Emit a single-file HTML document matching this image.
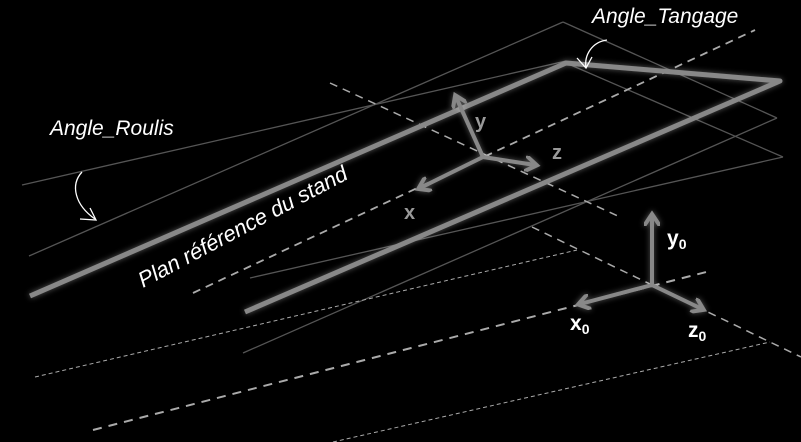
<!DOCTYPE html>
<html><head><meta charset="utf-8"><style>
html,body{margin:0;padding:0;background:#000;}
svg{display:block;}
text{font-family:"Liberation Sans","DejaVu Sans",sans-serif;}
</style></head><body>
<svg width="801" height="442" viewBox="0 0 801 442">
<defs>
<filter id="glow" x="-20%" y="-20%" width="140%" height="140%">
<feGaussianBlur in="SourceAlpha" stdDeviation="3" result="b"/>
<feFlood flood-color="#fff" flood-opacity="0.35"/>
<feComposite in2="b" operator="in" result="g"/>
<feMerge><feMergeNode in="g"/><feMergeNode in="SourceGraphic"/></feMerge>
</filter>
<marker id="ah" markerWidth="4" markerHeight="4" refX="2.5" refY="2" orient="auto" markerUnits="strokeWidth">
<path d="M0,0 L3,2 L0,4" fill="none" stroke="#888" stroke-width="1"/>
</marker>
</defs>
<g stroke="#555" stroke-width="1.3" fill="none">
<line x1="22" y1="185" x2="566" y2="61"/>
<line x1="29" y1="256" x2="563" y2="22"/>
<line x1="563" y1="22" x2="777" y2="118"/>
<line x1="566" y1="63" x2="783" y2="157"/>
<line x1="777" y1="118" x2="243" y2="353"/>
<line x1="250" y1="278" x2="783" y2="157"/>
</g>
<g stroke="#aaa" fill="none">
<line x1="330" y1="83" x2="620" y2="217" stroke-width="1.5" stroke-dasharray="8,6"/>
<line x1="532" y1="227" x2="801" y2="357" stroke-width="1.5" stroke-dasharray="8,6"/>
<line x1="193" y1="293" x2="755" y2="30" stroke-width="1.8" stroke-dasharray="8,6"/>
<line x1="35" y1="377" x2="577" y2="250" stroke-width="1" stroke-dasharray="4,3"/>
<line x1="93" y1="430" x2="710" y2="271" stroke-width="2" stroke-dasharray="9,7"/>
<line x1="333" y1="442" x2="770" y2="342" stroke-width="1" stroke-dasharray="4,3"/>
</g>
<g filter="url(#glow)" stroke="#888" stroke-width="5" fill="none" stroke-linejoin="round">
<polyline points="30,296 566,63 780,81 245,312"/>
</g>
<g filter="url(#glow)" stroke="#888" stroke-width="4" fill="none">
<line x1="483" y1="157" x2="456" y2="97" marker-end="url(#ah)"/>
<line x1="483" y1="157" x2="535" y2="165" marker-end="url(#ah)"/>
<line x1="483" y1="157" x2="420" y2="188" marker-end="url(#ah)"/>
</g>
<g filter="url(#glow)" stroke="#888" stroke-width="4" fill="none">
<line x1="652" y1="285" x2="652" y2="216" marker-end="url(#ah)"/>
<line x1="652" y1="285" x2="580" y2="304" marker-end="url(#ah)"/>
<line x1="652" y1="285" x2="702" y2="309" marker-end="url(#ah)"/>
</g>
<g fill="#999" font-weight="bold" font-size="20">
<text x="475" y="128">y</text>
<text x="552" y="159">z</text>
<text x="404" y="219">x</text>
</g>
<g fill="#fff" font-weight="bold" font-size="21">
<text x="667" y="245">y<tspan font-size="14" dy="4">0</tspan></text>
<text x="570" y="330">x<tspan font-size="14" dy="4">0</tspan></text>
<text x="688" y="337">z<tspan font-size="14" dy="4">0</tspan></text>
</g>
<text x="50" y="135" fill="#fff" font-style="italic" font-size="21">Angle_Roulis</text>
<text x="592" y="23" fill="#fff" font-style="italic" font-size="21">Angle_Tangage</text>
<text x="0" y="0" transform="translate(143,288) rotate(-28)" fill="#fff" font-style="italic" font-size="22">Plan référence du stand</text>
<g stroke="#fff" stroke-width="1.3" fill="none">
<path d="M82,172 C70,185 75,205 95,219"/>
<path d="M80,219 L96,220 L90,208"/>
</g>
<g stroke="#fff" stroke-width="1.3" fill="none">
<path d="M607,40 C592,42 584,55 586,68"/>
<path d="M577,58 L586,68 L592,57"/>
</g>
</svg>
</body></html>
